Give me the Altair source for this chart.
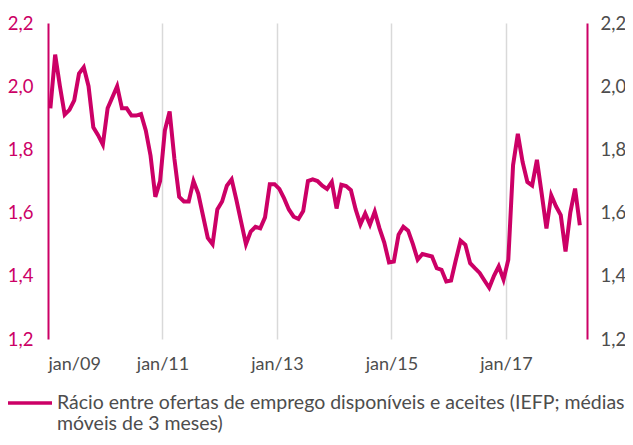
import altair as alt
import pandas as pd

# Monthly ratio, jan/09 .. apr/18 (IEFP, 3-month moving averages)
ratio = [
    1.93, 2.10, 2.00, 1.91, 1.925, 1.955, 2.04, 2.06, 2.00, 1.87,
    1.845, 1.815, 1.93, 1.965, 2.00, 1.93, 1.93, 1.907, 1.907, 1.912,
    1.86, 1.78, 1.65, 1.70, 1.86, 1.92, 1.77, 1.65, 1.635, 1.635,
    1.70, 1.66, 1.59, 1.52, 1.50, 1.61, 1.635, 1.685, 1.705, 1.64,
    1.57, 1.50, 1.54, 1.555, 1.55, 1.585, 1.69, 1.69, 1.675, 1.645,
    1.61, 1.587, 1.58, 1.605, 1.70, 1.705, 1.70, 1.685, 1.675, 1.697,
    1.613, 1.688, 1.684, 1.671, 1.61, 1.563, 1.597, 1.562, 1.603, 1.55,
    1.505, 1.442, 1.445, 1.53, 1.555, 1.543, 1.50, 1.451, 1.469, 1.465,
    1.461, 1.424, 1.419, 1.382, 1.385, 1.45, 1.511, 1.498, 1.44, 1.424,
    1.409, 1.385, 1.362, 1.40, 1.43, 1.388, 1.451, 1.75, 1.849, 1.76,
    1.697, 1.686, 1.767, 1.66, 1.55, 1.655, 1.62, 1.592, 1.477, 1.60,
    1.676, 1.56,
]
tick_months = [0, 24, 48, 72, 96]
tick_labels = ["jan/09", "jan/11", "jan/13", "jan/15", "jan/17"]
y_ticks = [1.2, 1.4, 1.6, 1.8, 2.0, 2.2]
legend_lines = ["Rácio entre ofertas de emprego disponíveis e aceites (IEFP; médias",
                "móveis de 3 meses)"]

MAG = "#CC0066"
GRAY = "#4D4D4D"
FONT = "Lato"

df = pd.DataFrame({"t": [i + 0.5 for i in range(len(ratio))], "v": ratio})

label_expr_x = "[" + ",".join("'" + s + "'" for s in tick_labels) + "][indexof([" + \
    ",".join(str(m) for m in tick_months) + "], datum.value)]"
label_expr_y = "replace(format(datum.value, '.1f'), '.', ',')"

xscale = alt.Scale(domain=[0, 113], nice=False, zero=False)
yscale = alt.Scale(domain=[1.2, 2.2], nice=False, zero=False)

x_enc = alt.X("t:Q", scale=xscale, axis=alt.Axis(
    values=tick_months, labelExpr=label_expr_x, title=None, domain=False,
    ticks=False, grid=True,
    gridColor={"condition": {"test": "datum.value === 0", "value": "transparent"},
               "value": "#D9D9D9"},
    gridWidth=1.5, labelFontSize=18, labelColor=GRAY, labelFont=FONT,
    labelPadding=16))

left = alt.Chart(df).mark_line(color=MAG, strokeWidth=4).encode(
    x=x_enc,
    y=alt.Y("v:Q", scale=yscale, axis=alt.Axis(
        orient="left", values=y_ticks, labelExpr=label_expr_y, title=None,
        domainColor=MAG, domainWidth=2, ticks=False, grid=False,
        labelColor=MAG, labelFontSize=18.5, labelFont=FONT, labelPadding=15)),
)

right = alt.Chart(df).mark_line(opacity=0).encode(
    x=x_enc,
    y=alt.Y("v:Q", scale=yscale, axis=alt.Axis(
        orient="right", values=y_ticks, labelExpr=label_expr_y, title=None,
        domainColor=MAG, domainWidth=2, ticks=False, grid=False,
        labelColor=GRAY, labelFontSize=18.5, labelFont=FONT, labelPadding=13)),
)

one = pd.DataFrame({"a": [0]})
leg_rule = alt.Chart(one).mark_rule(color=MAG, strokeWidth=3.5).encode(
    x=alt.value(-40), x2=alt.value(4), y=alt.value(380))
leg_text = alt.Chart(one).mark_text(
    text=legend_lines, align="left", baseline="alphabetic", fontSize=19.5,
    font=FONT, color=GRAY, lineHeight=21).encode(
    x=alt.value(9), y=alt.value(386))

chart = alt.layer(left, right, leg_rule, leg_text).resolve_scale(
    y="independent").properties(
    width=539, height=316,
    padding={"left": 40, "top": 15, "right": 38, "bottom": 94},
    autosize=alt.AutoSizeParams(type="none"),
).configure_view(stroke=None)

chart.save("out.html", embed_options={"renderer": "svg", "actions": False})
